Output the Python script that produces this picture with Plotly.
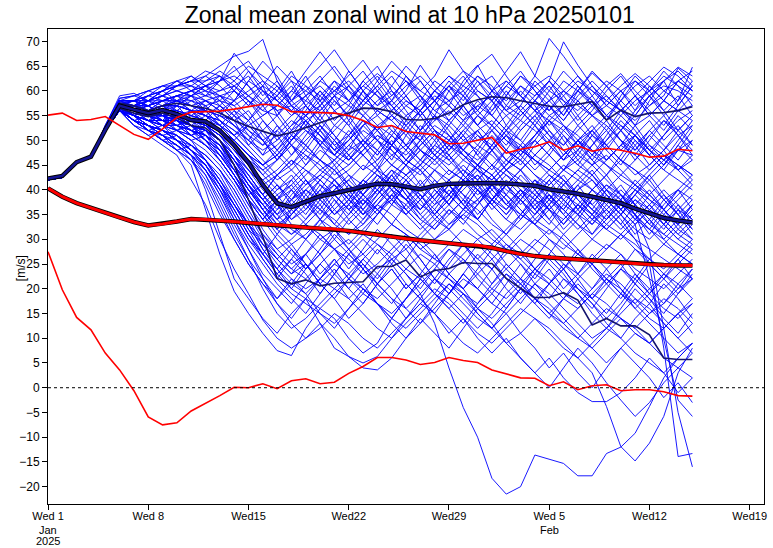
import pandas as pd
import plotly.graph_objects as go

# daily steps, 1 Jan .. 15 Feb 2025
days = pd.date_range("2025-01-01", periods=46, freq="D")

clim_mean = [40.3, 38.6, 37.3, 36.3, 35.4, 34.4, 33.5, 32.8, 33.1, 33.6, 34.1, 34.0, 33.8, 33.6, 33.3, 33.1,
             32.9, 32.7, 32.4, 32.2, 32.1, 31.7, 31.3, 30.9, 30.4, 30.1, 29.8, 29.5, 29.2, 28.9, 28.8, 28.3,
             27.6, 27.0, 26.6, 26.3, 26.1, 25.9, 25.7, 25.4, 25.2, 25.1, 24.9, 24.8, 24.7, 24.7]
clim_max = [55.1, 55.5, 54.0, 54.2, 54.8, 53.0, 51.2, 50.2, 52.3, 54.6, 55.7, 55.8, 55.9, 56.3, 56.8, 57.3,
            57.1, 55.8, 55.7, 55.6, 55.5, 55.0, 54.0, 52.6, 53.0, 51.8, 51.5, 51.1, 49.3, 49.4, 50.0, 50.6,
            47.4, 48.2, 48.7, 49.7, 48.0, 48.9, 47.8, 48.4, 48.0, 47.4, 46.6, 46.8, 48.2, 47.9]
clim_min = [27.5, 19.8, 14.2, 11.7, 7.0, 3.6, -0.6, -5.9, -7.5, -7.1, -4.7, -3.2, -1.6, 0.1, 0.0, 0.8,
            -0.2, 1.4, 1.8, 0.8, 1.1, 2.9, 4.3, 6.1, 6.1, 5.6, 4.7, 5.1, 6.1, 5.5, 5.1, 3.6,
            2.8, 2.0, 1.9, 0.4, 1.2, -0.4, 0.4, 0.6, -0.6, -0.4, -0.4, -0.8, -1.6, -1.7]

ens_mean = [42.3, 42.8, 45.6, 46.7, 52.1, 57.0, 56.2, 55.5, 56.1, 55.3, 54.1, 53.8, 52.0, 49.0, 45.5, 41.0,
            37.3, 36.5, 37.6, 38.7, 39.3, 40.0, 40.7, 41.2, 41.1, 40.7, 40.1, 40.8, 41.2, 41.3, 41.4, 41.4,
            41.3, 41.1, 40.8, 40.1, 39.7, 39.2, 38.6, 37.9, 37.3, 36.2, 35.2, 34.3, 33.8, 33.4]
ctrl_high = [42.3, 42.8, 45.6, 46.7, 52.3, 57.5, 57.0, 56.0, 57.0, 57.5, 57.0, 56.5, 55.5, 54.0, 52.8, 51.8,
             50.9, 51.6, 52.6, 53.5, 54.6, 55.6, 56.5, 56.4, 55.8, 54.2, 54.1, 54.4, 55.5, 57.2, 58.2, 58.8,
             58.6, 58.0, 57.4, 56.9, 56.8, 57.3, 57.8, 54.1, 56.1, 54.8, 55.5, 55.6, 56.0, 56.8]
ctrl_low = [42.3, 42.8, 45.6, 46.7, 52.0, 56.5, 55.5, 54.8, 55.5, 54.5, 53.0, 52.5, 50.0, 45.0, 38.0, 30.5,
            22.1, 21.0, 21.8, 20.6, 21.1, 21.2, 21.4, 24.5, 24.5, 25.8, 22.4, 23.7, 24.1, 25.3, 25.1, 25.1,
            22.1, 20.1, 18.2, 18.3, 19.2, 17.7, 12.7, 14.0, 12.5, 12.5, 10.7, 6.0, 5.7, 5.7]

members_upper = [
    [42, 42.5, 45.5, 46.5, 52.5, 58, 58, 57, 59, 60, 61, 63, 65, 67, 68, 70.4, 62, 57, 55, 58, 62, 60, 56, 53, 55, 58, 56, 52, 50, 53, 57, 55, 52, 48, 51, 55, 53, 50, 47, 50, 53, 51, 48, 51, 54, 56],
    [42, 42.5, 45.5, 46.5, 52, 57.5, 57, 58, 59, 61, 62, 62, 63, 61, 58, 55, 57, 60, 64, 67.9, 64, 60, 58, 61, 64, 62, 59, 56, 58, 61, 59, 55, 52, 55, 58, 56, 59, 62, 60, 57, 55, 58, 60, 62, 64.8, 63],
    [42, 42.5, 45.5, 46.5, 52, 57, 56, 57, 58, 59, 60, 61, 60, 62, 65, 63, 61, 58, 62, 65, 68.3, 64, 60, 57, 59, 62, 60, 58, 61, 64, 62, 59, 56, 58, 61, 63, 60, 58, 55, 57, 60, 62, 59, 61, 60, 58],
    [42, 42.5, 45.5, 46.5, 52.5, 58, 58, 59, 60, 61, 61, 60, 62, 67.6, 64, 60, 58, 56, 59, 61, 58, 55, 58, 62, 66, 63, 60, 63, 68.3, 64, 60, 58, 61, 59, 56, 54, 57, 60, 58, 55, 58, 61, 63, 60, 62, 64],
    [42, 42.5, 45.5, 46.5, 52, 57, 57, 56, 57, 58, 59, 60, 59, 58, 60, 62, 60, 57, 55, 57, 60, 63, 66.2, 62, 58, 55, 57, 60, 63, 61, 65, 67.4, 63, 59, 56, 58, 62, 60, 57, 59, 56, 53, 55, 58, 56, 54],
    [42, 42.5, 45.5, 46.5, 52, 57, 56, 56, 58, 58, 57, 58, 59, 60, 58, 56, 55, 58, 61, 59, 56, 58, 61, 59, 57, 60, 65.2, 61, 58, 60, 63, 60, 64, 67.9, 63, 60, 58, 56, 59, 62, 60, 57, 60, 63, 61, 59],
    [42, 42.5, 45.5, 46.5, 52, 57.5, 57, 57, 58, 59, 60, 59, 58, 57, 59, 61, 59, 56, 54, 56, 59, 57, 55, 58, 60, 57, 55, 58, 61, 59, 56, 60, 62, 59, 63, 70.6, 67, 63, 60, 58, 61, 63.5, 61, 58, 56, 57],
    [42, 42.5, 45.5, 46.5, 52, 57, 57, 56, 57, 58, 58, 59, 60, 61, 59, 57, 59, 62, 60, 58, 60, 62, 59, 56, 58, 61, 63, 60, 58, 55, 57, 59, 56, 54, 58, 62, 69.9, 65.2, 61, 58, 56, 59, 62, 64.8, 63, 60],
    [42, 42.5, 45.5, 46.5, 52, 57, 56, 57, 58, 59, 60, 61, 62, 63, 61, 58, 56, 57, 59, 62, 60, 58, 61, 63.5, 61, 58, 56, 59, 57, 54, 56, 60, 58, 61, 58, 55, 57, 60, 63.6, 61, 63.5, 60, 57, 59, 64.6, 62],
    [42, 42.5, 45.5, 46.5, 52, 57, 57, 58, 58, 59, 59, 58, 57, 55, 53, 55, 57, 60, 58, 56, 59, 61, 58, 56, 54, 57, 59, 56, 54, 57, 60, 58, 55, 52, 55, 58, 60, 57, 55, 58, 56, 54, 57, 60, 58, 64.8],
    [42, 42.5, 45.5, 46.5, 53, 58.5, 59, 60, 61, 61, 62, 60, 57, 60, 64, 61, 55, 59, 63, 58, 54, 57, 62, 65, 60, 56, 52, 57, 61, 58, 62, 58, 53, 57, 62, 59, 55, 60, 64, 61, 57, 53, 58, 62, 57, 61],
    [42, 42.5, 45.5, 46.5, 52.5, 58, 58, 59, 60, 62, 61, 59, 62, 65, 61, 57, 60, 64, 59, 55, 59, 64, 60, 55, 58, 63, 59, 54, 57, 62, 65.2, 60, 56, 60, 57, 53, 56, 61, 58, 54, 59, 63, 60, 56, 59, 55],
    [42, 42.5, 45.5, 46.5, 53, 59, 59.5, 58, 59, 60, 59, 61, 63, 60, 57, 61, 65, 62, 57, 54, 58, 55, 60, 63, 59, 62, 58, 55, 60, 56, 53, 57, 61, 64, 60, 56, 60, 63, 59, 55, 52, 56, 61, 58, 62, 60],
    [42, 42.5, 45.5, 46.5, 52, 57.5, 58, 59, 61, 62, 60, 58, 56, 58, 62, 66, 63, 58, 60, 63, 59, 54, 58, 61, 57, 53, 56, 60, 63, 60, 56, 53, 57, 61, 59, 62, 58, 54, 57, 61, 58, 55, 59, 56, 52, 55],
    [42, 42.5, 45.5, 46.5, 52.5, 58, 57, 58, 60, 61, 62, 63, 61, 58, 62, 60, 56, 52, 56, 60, 57, 61, 64, 60, 56, 59, 62, 58, 62, 59, 55, 58, 62, 59, 56, 60, 64, 61, 57, 54, 58, 62, 60, 64, 61, 57],
    [42, 42.5, 45.5, 46.5, 52, 57, 58, 60, 59, 58, 60, 62, 64, 62, 59, 56, 59, 63, 61, 57, 53, 56, 60, 57, 61, 65, 62, 58, 55, 59, 63, 61, 57, 55, 58, 61, 57, 53, 56, 60, 63, 59, 55, 58, 62, 60],
    [42, 42.5, 45.5, 46.5, 53, 58.5, 59, 58, 60, 61, 63, 61, 59, 57, 54, 58, 61, 57, 53, 57, 61, 58, 62, 59, 55, 52, 56, 60, 57, 54, 58, 55, 59, 63, 60, 57, 54, 58, 55, 52, 56, 59, 56, 53, 57, 61],
    [42, 42.5, 45.5, 46.5, 52.5, 58, 59, 60, 61, 60, 59, 61, 62, 64, 66, 62, 58, 61, 57, 60, 56, 53, 57, 60, 63, 59, 55, 58, 54, 57, 61, 63, 59, 56, 53, 57, 54, 58, 61, 57, 60, 56, 59, 55, 58, 62],
    [42, 42.5, 45.5, 46.5, 52, 57.5, 57, 59, 60, 62, 63, 61, 58, 61, 63, 59, 62, 58, 55, 59, 62, 58, 55, 52, 56, 59, 55, 58, 61, 57, 53, 56, 60, 56, 59, 62, 59, 55, 58, 55, 52, 55, 59, 62, 64, 61],
    [42, 42.5, 45.5, 46.5, 52.5, 58, 58, 58, 59, 61, 62, 64, 63, 60, 57, 60, 58, 55, 58, 62, 65, 61, 57, 60, 57, 54, 58, 62, 60, 63, 59, 56, 59, 63, 61, 58, 55, 59, 62, 59, 56, 59, 55, 52, 56, 59],
]
members_upper_mid = [
    [42, 42.5, 45.5, 46.5, 52, 57, 56, 56, 57, 57, 56, 55, 54, 52, 50, 48, 50, 53, 55, 52, 49, 51, 54, 52, 49, 47, 50, 53, 51, 48, 46, 49, 52, 50, 47, 50, 53, 51, 48, 46, 49, 51, 48, 46, 48, 50],
    [42, 42.5, 45.5, 46.5, 52, 57, 56, 55, 56, 56, 55, 54, 53, 50, 47, 45, 47, 50, 53, 51, 48, 46, 49, 52, 55, 53, 50, 47, 45, 48, 51, 49, 46, 44, 47, 50, 48, 45, 43, 46, 49, 47, 44, 47, 45, 43],
    [42, 42.5, 45.5, 46.5, 52, 57, 57, 56, 57, 57, 56, 56, 55, 54, 52, 50, 52, 55, 57, 54, 51, 48, 50, 53, 51, 48, 52, 55, 53, 50, 52, 54, 51, 48, 46, 44, 47, 50, 52, 49, 46, 44, 42, 45, 48, 47],
    [42, 42.5, 45.5, 46.5, 52, 57, 56, 56, 56, 56, 55, 54, 52, 49, 46, 44, 46, 49, 47, 44, 46, 49, 52, 50, 47, 45, 48, 51, 49, 46, 44, 42, 45, 48, 46, 43, 41, 44, 47, 45, 42, 40, 43, 46, 44, 41],
    [42, 42.5, 45.5, 46.5, 52, 57, 56, 55, 56, 55, 54, 53, 51, 48, 45, 42, 44, 47, 50, 53, 50, 47, 44, 46, 49, 52, 50, 47, 44, 42, 45, 48, 51, 54, 52, 49, 46, 48, 51, 49, 46, 43, 45, 48, 51, 53],
    [42, 42.5, 45.5, 46.5, 52, 57, 57, 56, 57, 58, 57, 56, 55, 53, 51, 49, 51, 54, 52, 49, 47, 50, 53, 56, 54, 51, 48, 46, 49, 52, 55, 53, 50, 48, 51, 54, 52, 49, 52, 55, 53, 50, 47, 44, 42, 40],
    [42, 42.5, 45.5, 46.5, 52, 57, 56, 56, 57, 57, 56, 55, 53, 51, 48, 45, 42, 44, 47, 45, 42, 44, 47, 50, 48, 45, 43, 46, 49, 47, 44, 42, 45, 48, 50, 47, 44, 42, 45, 47, 44, 41, 39, 42, 45, 43],
    [42, 42.5, 45.5, 46.5, 52, 57, 56, 55, 55, 55, 54, 53, 52, 50, 47, 43, 40, 42, 45, 48, 46, 43, 41, 44, 47, 49, 46, 44, 47, 50, 48, 45, 43, 40, 38, 41, 44, 46, 43, 40, 38, 41, 44, 47, 45, 42],
    [42, 42.5, 45.5, 46.5, 52, 57, 57, 57, 58, 58, 57, 56, 55, 53, 50, 47, 49, 52, 54, 51, 48, 50, 53, 55, 52, 49, 51, 54, 56, 53, 50, 52, 55, 57, 54, 51, 49, 52, 55, 53, 50, 48, 51, 54, 52, 49],
    [42, 42.5, 45.5, 46.5, 52, 57, 56, 56, 57, 57, 56, 55, 54, 52, 49, 46, 43, 45, 48, 46, 43, 45, 48, 51, 49, 46, 49, 52, 50, 47, 45, 48, 51, 49, 46, 44, 47, 50, 48, 45, 43, 46, 49, 47, 44, 46],
    [42, 42.5, 45.5, 46.5, 52, 57, 57, 56, 56, 57, 56, 55, 53, 51, 48, 45, 47, 44, 41, 43, 46, 49, 47, 44, 42, 45, 48, 46, 43, 46, 49, 47, 44, 41, 39, 42, 45, 43, 40, 43, 46, 44, 41, 38, 40, 43],
    [42, 42.5, 45.5, 46.5, 52.5, 58, 58, 57, 55, 56, 58, 57, 54, 51, 53, 50, 46, 50, 54, 49, 45, 48, 53, 50, 46, 51, 55, 51, 47, 43, 48, 52, 49, 53, 56, 52, 48, 45, 49, 53, 50, 46, 50, 54, 51, 47],
    [42, 42.5, 45.5, 46.5, 52, 57.5, 57, 59, 58, 56, 55, 57, 58, 55, 51, 47, 52, 49, 45, 49, 53, 51, 47, 44, 49, 53, 56, 52, 48, 51, 47, 44, 48, 52, 55, 51, 47, 50, 46, 43, 47, 51, 54, 50, 53, 49],
    [42, 42.5, 45.5, 46.5, 52, 57, 58, 57, 55, 57, 59, 56, 53, 56, 54, 50, 47, 51, 55, 52, 48, 52, 49, 45, 49, 54, 51, 47, 50, 54, 51, 48, 52, 56, 53, 49, 46, 50, 53, 49, 46, 50, 47, 51, 55, 52],
    [42, 42.5, 45.5, 46.5, 52.5, 57.5, 56, 58, 60, 58, 56, 54, 57, 54, 49, 52, 55, 51, 48, 52, 56, 53, 49, 46, 50, 46, 50, 55, 52, 48, 45, 49, 53, 50, 54, 57, 53, 49, 46, 50, 54, 51, 48, 45, 49, 46],
    [42, 42.5, 45.5, 46.5, 52, 57, 57, 55, 56, 58, 56, 53, 55, 58, 55, 51, 48, 52, 49, 46, 50, 54, 50, 47, 51, 48, 45, 49, 53, 57, 53, 50, 46, 49, 45, 48, 52, 55, 51, 48, 52, 49, 45, 48, 52, 55],
    [42, 42.5, 45.5, 46.5, 52, 57, 58, 58, 56, 54, 56, 58, 56, 53, 50, 54, 51, 47, 51, 55, 51, 47, 44, 48, 52, 49, 53, 50, 46, 49, 52, 48, 45, 49, 53, 50, 46, 50, 47, 51, 55, 52, 48, 45, 49, 53],
    [42, 42.5, 45.5, 46.5, 52.5, 58, 57, 56, 58, 59, 57, 55, 52, 55, 58, 54, 50, 53, 57, 53, 49, 46, 50, 47, 51, 55, 52, 48, 51, 47, 44, 48, 51, 47, 50, 54, 51, 47, 51, 54, 50, 47, 51, 48, 44, 47],
    [42, 42.5, 45.5, 46.5, 52, 57, 56, 58, 59, 57, 54, 56, 59, 56, 52, 49, 53, 50, 54, 51, 47, 50, 54, 50, 53, 49, 46, 50, 54, 51, 47, 51, 48, 45, 49, 52, 49, 53, 50, 46, 49, 53, 49, 46, 50, 54],
    [42, 42.5, 45.5, 46.5, 52, 57.5, 58, 56, 54, 57, 59, 57, 54, 51, 54, 57, 53, 49, 46, 50, 47, 51, 55, 52, 48, 45, 49, 52, 48, 51, 55, 52, 48, 46, 50, 47, 44, 48, 52, 48, 45, 49, 52, 49, 46, 50],
    [42, 42.5, 45.5, 46.5, 52, 57, 57, 58, 57, 55, 53, 55, 57, 54, 56, 52, 48, 45, 49, 53, 50, 46, 49, 53, 49, 52, 48, 45, 48, 52, 49, 53, 50, 47, 44, 47, 51, 48, 45, 49, 52, 48, 52, 55, 51, 48],
    [42, 42.5, 45.5, 46.5, 52.5, 57.5, 56, 55, 57, 59, 58, 56, 53, 50, 53, 50, 46, 50, 53, 49, 52, 55, 51, 48, 45, 48, 52, 55, 51, 48, 52, 48, 44, 47, 51, 54, 50, 46, 49, 52, 48, 51, 47, 44, 48, 52],
]
members_middle = [
    [42, 42.5, 45.5, 46.5, 52, 57, 56, 55, 55, 54, 53, 52, 50, 47, 43, 39, 36, 38, 41, 44, 42, 39, 37, 40, 43, 46, 44, 41, 39, 42, 45, 43, 40, 38, 41, 44, 42, 39, 36, 34, 37, 40, 38, 35, 33, 36],
    [42, 42.5, 45.5, 46.5, 52, 56.5, 56, 55, 55, 54, 53, 52, 50, 46, 42, 38, 35, 37, 40, 38, 35, 37, 40, 43, 41, 38, 36, 39, 42, 44, 41, 38, 36, 39, 42, 40, 37, 35, 38, 41, 39, 36, 33, 31, 34, 37],
    [42, 42.5, 45.5, 46.5, 52, 57, 56, 56, 56, 55, 54, 53, 51, 48, 44, 40, 37, 34, 36, 39, 41, 38, 35, 37, 40, 43, 45, 42, 39, 36, 38, 41, 44, 42, 39, 36, 34, 37, 40, 38, 35, 32, 30, 33, 36, 34],
    [42, 42.5, 45.5, 46.5, 52, 57, 55, 54, 54, 53, 52, 51, 49, 45, 41, 37, 33, 31, 34, 37, 40, 42, 39, 36, 38, 41, 39, 36, 33, 35, 38, 41, 39, 36, 33, 31, 34, 37, 35, 32, 30, 33, 36, 34, 31, 29],
    [42, 42.5, 45.5, 46.5, 52, 57, 56, 55, 55, 55, 54, 53, 51, 48, 45, 42, 39, 41, 44, 42, 39, 36, 38, 41, 44, 42, 45, 48, 46, 43, 40, 38, 41, 44, 47, 45, 42, 39, 37, 40, 43, 41, 38, 36, 39, 42],
    [42, 42.5, 45.5, 46.5, 52, 57, 56, 55, 54, 54, 53, 52, 50, 47, 43, 39, 35, 32, 30, 33, 36, 39, 42, 40, 37, 35, 38, 41, 44, 42, 39, 41, 44, 46, 43, 40, 38, 35, 33, 36, 39, 37, 34, 31, 29, 27],
    [42, 42.5, 45.5, 46.5, 52, 56.5, 55, 54, 54, 53, 52, 51, 49, 46, 42, 38, 34, 31, 33, 36, 34, 31, 33, 36, 39, 37, 34, 32, 35, 38, 36, 33, 31, 34, 37, 39, 36, 33, 30, 28, 31, 34, 32, 29, 27, 25],
    [42, 42.5, 45.5, 46.5, 52, 57, 56, 55, 55, 54, 53, 52, 50, 46, 41, 36, 32, 29, 31, 34, 32, 29, 32, 35, 38, 36, 33, 30, 32, 35, 33, 30, 28, 31, 34, 32, 29, 27, 30, 33, 31, 28, 26, 29, 32, 30],
    [42, 42.5, 45.5, 46.5, 52, 56.5, 55, 54, 53, 53, 52, 50, 48, 44, 40, 36, 33, 35, 38, 36, 33, 31, 34, 37, 35, 32, 30, 33, 36, 34, 31, 29, 32, 35, 33, 30, 28, 31, 34, 36, 33, 30, 28, 26, 24, 22],
    [42, 42.5, 45.5, 46.5, 52, 57, 56, 55, 55, 54, 53, 52, 50, 47, 44, 41, 38, 40, 43, 46, 44, 41, 39, 42, 45, 43, 40, 37, 39, 42, 40, 37, 34, 32, 35, 38, 36, 33, 31, 34, 37, 35, 32, 30, 27, 25],
    [42, 42.5, 45.5, 46.5, 52, 57, 56, 55, 54, 54, 52, 51, 49, 45, 41, 37, 34, 36, 33, 30, 32, 35, 38, 36, 33, 31, 28, 30, 33, 36, 34, 31, 28, 26, 29, 32, 30, 27, 25, 28, 31, 29, 26, 24, 27, 30],
    [42, 42.5, 45.5, 46.5, 52, 57, 56, 55, 55, 55, 54, 53, 52, 50, 47, 44, 41, 38, 40, 43, 41, 38, 36, 39, 42, 40, 37, 35, 38, 41, 43, 40, 37, 35, 33, 36, 39, 37, 34, 32, 35, 38, 36, 33, 30, 28],
    [42, 42.5, 45.5, 46.5, 52, 57, 57, 55, 53, 55, 56, 53, 50, 46, 43, 39, 43, 40, 36, 40, 44, 40, 36, 33, 37, 41, 38, 34, 37, 41, 45, 41, 37, 40, 36, 33, 37, 41, 44, 40, 36, 39, 43, 39, 35, 38],
    [42, 42.5, 45.5, 46.5, 52, 57.5, 56, 57, 55, 53, 54, 52, 49, 45, 40, 36, 32, 36, 40, 37, 33, 37, 41, 44, 40, 36, 39, 35, 32, 36, 40, 37, 41, 44, 40, 37, 33, 36, 40, 43, 39, 35, 32, 36, 33, 30],
    [42, 42.5, 45.5, 46.5, 52, 57, 55, 56, 57, 54, 52, 53, 51, 47, 42, 38, 41, 37, 34, 38, 42, 39, 35, 39, 43, 39, 35, 32, 36, 33, 37, 41, 38, 34, 38, 42, 38, 35, 31, 35, 38, 42, 39, 36, 32, 35],
    [42, 42.5, 45.5, 46.5, 52, 56.5, 56, 54, 53, 55, 53, 50, 48, 44, 39, 35, 31, 35, 38, 34, 30, 34, 37, 41, 38, 42, 39, 35, 38, 42, 38, 34, 31, 35, 39, 36, 32, 35, 39, 36, 33, 37, 34, 30, 33, 37],
    [42, 42.5, 45.5, 46.5, 52, 57, 57, 56, 54, 53, 55, 52, 48, 43, 39, 41, 38, 34, 37, 41, 38, 34, 31, 35, 39, 42, 38, 41, 37, 34, 37, 41, 38, 35, 38, 34, 31, 34, 38, 41, 38, 34, 37, 33, 30, 33],
    [42, 42.5, 45.5, 46.5, 52.5, 57.5, 56, 55, 56, 54, 51, 49, 47, 43, 38, 34, 37, 33, 30, 34, 38, 35, 39, 42, 38, 35, 32, 35, 39, 36, 40, 43, 39, 36, 33, 37, 40, 36, 39, 35, 32, 35, 39, 36, 40, 38],
    [42, 42.5, 45.5, 46.5, 52, 57, 56, 57, 55, 52, 50, 51, 49, 44, 40, 37, 40, 43, 39, 36, 40, 43, 39, 36, 33, 37, 40, 44, 41, 37, 34, 38, 35, 39, 42, 38, 35, 39, 36, 33, 36, 40, 37, 34, 31, 34],
    [42, 42.5, 45.5, 46.5, 52, 56.5, 55, 56, 54, 52, 53, 50, 47, 43, 38, 34, 38, 41, 37, 40, 36, 33, 36, 40, 37, 41, 44, 40, 37, 40, 43, 39, 36, 40, 37, 34, 38, 41, 37, 34, 38, 35, 31, 35, 38, 41],
    [42, 42.5, 45.5, 46.5, 52, 57, 56, 54, 55, 56, 53, 51, 48, 45, 41, 38, 35, 39, 42, 38, 35, 38, 42, 45, 41, 38, 35, 38, 41, 38, 42, 45, 41, 38, 35, 39, 36, 40, 43, 39, 36, 33, 36, 39, 36, 32],
    [42, 42.5, 45.5, 46.5, 52, 57, 57, 55, 54, 52, 54, 51, 47, 44, 40, 36, 39, 35, 38, 42, 45, 41, 38, 35, 39, 35, 38, 42, 39, 43, 40, 36, 39, 43, 40, 36, 33, 37, 34, 38, 41, 37, 40, 36, 33, 37],
    [42, 42.5, 45.5, 46.5, 52.5, 57.5, 56, 57, 55, 53, 51, 53, 50, 46, 42, 39, 43, 46, 42, 38, 41, 37, 34, 38, 41, 45, 41, 38, 42, 45, 42, 38, 35, 38, 42, 39, 36, 40, 42, 38, 35, 38, 35, 32, 36, 39],
    [42, 42.5, 45.5, 46.5, 52, 57, 55, 54, 56, 54, 52, 49, 46, 42, 37, 33, 36, 40, 37, 34, 37, 41, 37, 40, 44, 40, 36, 39, 42, 39, 35, 38, 41, 37, 40, 43, 40, 36, 33, 37, 40, 37, 33, 37, 40, 36],
    [42, 42.5, 45.5, 46.5, 52, 56.5, 56, 55, 53, 54, 52, 50, 47, 43, 39, 35, 32, 35, 39, 42, 39, 36, 33, 37, 41, 38, 42, 38, 35, 38, 34, 38, 41, 38, 34, 37, 41, 38, 35, 38, 35, 31, 34, 38, 35, 32],
    [42, 42.5, 45.5, 46.5, 52, 57, 57, 56, 55, 53, 51, 52, 50, 45, 41, 38, 41, 38, 42, 39, 35, 38, 42, 39, 43, 39, 36, 40, 37, 41, 44, 40, 37, 40, 36, 40, 43, 39, 36, 40, 37, 34, 37, 40, 37, 34],
    [42, 42.5, 45.5, 46.5, 52, 57, 56, 55, 54, 55, 53, 50, 46, 42, 38, 35, 38, 42, 38, 35, 39, 36, 39, 43, 40, 36, 33, 36, 40, 37, 41, 37, 34, 38, 35, 38, 42, 38, 35, 32, 35, 39, 36, 33, 37, 33],
    [42, 42.5, 45.5, 46.5, 52, 57, 55, 56, 57, 55, 53, 51, 48, 44, 40, 37, 34, 38, 35, 39, 42, 38, 35, 38, 41, 38, 34, 37, 41, 37, 34, 38, 42, 39, 36, 39, 35, 32, 35, 39, 36, 39, 42, 38, 35, 31],
]
members_low = [
    [42, 42.5, 45.5, 46.5, 52, 56.5, 55, 54, 53, 52, 51, 49, 46, 42, 37, 32, 28, 25, 27, 30, 28, 25, 27, 30, 33, 31, 28, 26, 29, 32, 30, 27, 24, 27, 30, 28, 25, 23, 26, 29, 27, 24, 22, 20, 23, 26],
    [42, 42.5, 45.5, 46.5, 52, 56.5, 55, 54, 53, 52, 50, 48, 45, 41, 36, 31, 27, 24, 22, 25, 28, 26, 23, 25, 28, 31, 29, 26, 24, 27, 30, 32, 29, 26, 23, 21, 24, 27, 25, 22, 19, 17, 20, 23, 21, 18],
    [42, 42.5, 45.5, 46.5, 52, 56.5, 55, 53, 52, 51, 49, 47, 44, 40, 35, 30, 26, 23, 25, 22, 20, 23, 26, 29, 27, 24, 22, 25, 28, 26, 23, 20, 18, 21, 24, 22, 19, 17, 20, 23, 21, 18, 15, 17, 20, 22],
    [42, 42.5, 45.5, 46.5, 52, 56, 54, 53, 52, 51, 49, 47, 44, 39, 34, 29, 25, 22, 20, 22, 25, 28, 31, 29, 26, 28, 31, 34, 32, 29, 26, 24, 27, 30, 28, 25, 22, 20, 18, 21, 24, 22, 19, 16, 14, 17],
    [42, 42.5, 45.5, 46.5, 52, 56, 54, 53, 52, 50, 48, 46, 43, 38, 33, 28, 24, 21, 19, 22, 25, 23, 20, 18, 21, 24, 27, 25, 22, 20, 23, 26, 29, 27, 24, 21, 18, 16, 19, 22, 20, 17, 14, 12, 15, 18],
    [42, 42.5, 45.5, 46.5, 52, 56, 54, 53, 51, 50, 48, 46, 42, 37, 32, 27, 23, 20, 18, 16, 19, 22, 20, 17, 15, 18, 21, 24, 22, 19, 17, 20, 23, 21, 18, 15, 13, 16, 19, 17, 14, 12, 15, 18, 16, 13],
    [42, 42.5, 45.5, 46.5, 52, 56, 54, 52, 51, 49, 47, 45, 41, 36, 31, 26, 22, 19, 17, 15, 13, 16, 19, 17, 14, 12, 15, 18, 21, 19, 16, 14, 17, 20, 18, 15, 12, 10, 13, 16, 14, 11, 9, 12, 15, 11],
    [42, 42.5, 45.5, 46.5, 52, 56, 54, 52, 50, 48, 45, 36, 27, 19.5, 15, 11, 7.5, 6.5, 12, 16, 14, 10, 7, 9, 14, 18, 22, 19, 16, 13, 17, 21, 24, 21, 18, 15, 18, 22, 25, 22, 19, 16, 13, 10, 7, 9],
    [42, 42.5, 45.5, 46.5, 52, 56, 54, 52, 50, 49, 47, 40, 31, 22, 18, 14, 11, 15, 18, 13, 8, 6.3, 5, 6.3, 10, 14, 17, 20, 18, 15, 12, 15, 19, 22, 20, 17, 14, 11, 8, 11, 14, 12, 9, 12, 15, 17],
    [42, 42.5, 45.5, 46.5, 52, 56, 53, 51, 49, 47, 42, 37, 30, 24, 19, 13.7, 10, 8, 10, 13, 10, 6.3, 4, 3.6, 6, 10, 13, 16, 19, 22, 20, 17, 15, 18, 21, 19, 16, 13, 10, 12, 15, 18, 16, 13, 10, 7],
    [42, 42.5, 45.5, 46.5, 52, 56, 54, 52, 50, 48, 46, 43, 38, 32, 26, 20, 15, 12, 14, 17, 20, 18, 15, 12, 10, 13, 16, 19, 17, 14, 11, 9, 12, 15, 18, 16, 13, 10, 8, 5, 8, 11, 9, 6, 4, 2],
    [42, 42.5, 45.5, 46.5, 52, 56, 54, 52, 51, 49, 47, 44, 40, 34, 28, 22, 17, 13, 10, 12, 15, 13, 10, 8, 11, 14, 17, 15, 12, 9, 7, 10, 13, 16, 14, 11, 8, 6, 9, 12, 10, 7, 5, 3, 6, 9],
    [42, 42.5, 45.5, 46.5, 52, 56, 55, 53, 51, 52, 50, 46, 41, 35, 30, 26, 22, 26, 30, 27, 23, 20, 24, 28, 25, 21, 18, 22, 26, 29, 25, 21, 25, 22, 18, 21, 25, 22, 18, 15, 19, 23, 20, 17, 21, 24],
    [42, 42.5, 45.5, 46.5, 52, 56.5, 54, 55, 53, 50, 48, 45, 41, 37, 33, 28, 24, 20, 24, 28, 32, 28, 24, 21, 25, 29, 26, 22, 19, 23, 27, 24, 20, 17, 21, 24, 20, 23, 27, 24, 20, 16, 19, 23, 26, 22],
    [42, 42.5, 45.5, 46.5, 52, 56, 53, 51, 52, 50, 47, 44, 39, 34, 29, 25, 21, 18, 15, 19, 23, 27, 24, 20, 17, 21, 18, 15, 19, 23, 20, 24, 28, 25, 21, 18, 22, 19, 15, 12, 16, 20, 17, 21, 18, 14],
    [42, 42.5, 45.5, 46.5, 52, 56, 55, 53, 50, 48, 49, 46, 42, 38, 33, 29, 26, 29, 25, 21, 18, 22, 26, 23, 27, 30, 26, 22, 19, 23, 20, 17, 21, 25, 22, 26, 23, 19, 16, 20, 24, 21, 25, 22, 19, 23],
    [42, 42.5, 45.5, 46.5, 52, 56.5, 54, 52, 53, 51, 48, 45, 40, 35, 30, 27, 31, 28, 24, 27, 31, 28, 25, 22, 26, 23, 20, 24, 28, 25, 29, 26, 22, 19, 23, 27, 24, 28, 25, 21, 18, 22, 26, 23, 20, 24],
    [42, 42.5, 45.5, 46.5, 52, 56, 54, 53, 51, 49, 47, 43, 37, 31, 26, 22, 18, 21, 25, 21, 18, 14, 17, 21, 24, 20, 23, 27, 23, 20, 16, 19, 23, 20, 24, 27, 24, 20, 17, 14, 17, 21, 18, 15, 19, 22],
    [42, 42.5, 45.5, 46.5, 52, 56, 55, 52, 50, 51, 48, 44, 39, 33, 28, 23, 20, 17, 21, 25, 22, 18, 21, 17, 14, 18, 22, 19, 23, 26, 22, 19, 16, 20, 17, 14, 18, 21, 18, 22, 25, 21, 18, 14, 11, 15],
    [42, 42.5, 45.5, 46.5, 52, 56, 53, 52, 51, 48, 46, 41, 35, 30, 25, 21, 17, 14, 18, 22, 26, 22, 19, 23, 20, 16, 13, 17, 21, 18, 15, 12, 16, 20, 17, 21, 24, 20, 17, 13, 10, 14, 17, 13, 10, 13],
    [42, 42.5, 45.5, 46.5, 52, 56.5, 54, 53, 52, 50, 49, 46, 42, 37, 32, 29, 26, 23, 27, 31, 28, 24, 28, 32, 29, 26, 30, 27, 23, 20, 24, 28, 31, 28, 24, 27, 31, 28, 24, 21, 24, 28, 25, 22, 26, 29],
    [42, 42.5, 45.5, 46.5, 52, 56, 55, 54, 52, 50, 47, 44, 40, 36, 31, 27, 23, 26, 23, 19, 23, 27, 30, 27, 31, 28, 24, 21, 25, 29, 26, 29, 25, 22, 26, 30, 27, 23, 20, 24, 27, 23, 19, 22, 25, 28],
]
members_divers = [
    [42, 42.5, 45.5, 46.5, 52, 56.5, 55, 53, 52, 51, 49, 47, 44, 40, 35, 31, 28, 30, 33, 31, 28, 30, 27, 24, 26, 23, 19, 13, 4, -4, -10, -18.3, -21.5, -20, -13.6, -14.5, -15.3, -17.8, -17.8, -13.3, -12, -9.2, -3.8, 2, 6, 9],
    [42, 42.5, 45.5, 46.5, 52, 56.5, 55, 54, 53, 52, 51, 49, 46, 42, 38, 34, 30, 27, 24, 27, 30, 27, 24, 21, 18, 16, 19, 22, 20, 17, 14, 12, 9, 11, 14, 12, 9, 6, 3, -3.8, -11.9, -14.8, -11.2, -5.8, 3, 8],
    [42, 42.5, 45.5, 46.5, 52, 57, 56, 55, 55, 54, 53, 52, 50, 47, 44, 41, 43, 46, 44, 41, 39, 42, 45, 43, 40, 38, 41, 44, 42, 39, 37, 40, 43, 41, 38, 36, 39, 42, 40, 37, 34, 30, 25, 8, -13.9, -13.3],
    [42, 42.5, 45.5, 46.5, 52, 57, 56, 56, 57, 56, 55, 54, 52, 50, 47, 45, 48, 51, 49, 46, 44, 47, 50, 48, 45, 43, 46, 49, 47, 44, 42, 45, 48, 46, 43, 41, 44, 47, 45, 42, 39, 35, 28, 12, -5, -16],
    [42, 42.5, 45.5, 46.5, 52, 57, 56, 55, 56, 55, 54, 53, 51, 49, 46, 43, 46, 49, 52, 50, 47, 45, 48, 51, 49, 46, 44, 47, 50, 48, 45, 43, 46, 44, 41, 38, 41, 44, 42, 39, 36, 33, 22, 10, -2.5, -5.8],
    [42, 42.5, 45.5, 46.5, 52, 56, 54, 53, 51, 49, 46, 42, 36, 30, 25, 21, 18, 22, 19, 15, 12, 16, 20, 17, 13, 10, 14, 11, 8, 12, 16, 13, 9, 6, 3, 6, 2, -1, -2.8, -2.8, -1, 2, 6, 3, -1, 2],
    [42, 42.5, 45.5, 46.5, 52, 56, 55, 53, 52, 50, 48, 45, 41, 36, 31, 27, 24, 28, 25, 21, 24, 20, 17, 21, 18, 14, 18, 15, 11, 14, 10, 7, 10, 6, 3, 0, 4, 8, 5, 1, -2.5, -5.8, -3, 1, 4, 7],
    [42, 42.5, 45.5, 46.5, 52, 56.5, 55, 54, 52, 50, 48, 45, 41, 37, 33, 30, 27, 24, 27, 23, 26, 22, 25, 21, 24, 20, 23, 19, 16, 19, 15, 12, 15, 11, 8, 4, 7, 3, 0, 4, 8, 5, 2, -2, 1, -3],
]

font = "Liberation Sans, Arial, sans-serif"
fig = go.Figure()

for group in (members_upper, members_upper_mid, members_middle, members_low, members_divers):
    for m in group:
        fig.add_trace(go.Scatter(x=days, y=m, mode="lines",
                                 line=dict(color="rgba(0,0,255,0.9)", width=1)))

fig.add_hline(y=0, line=dict(color="black", width=1, dash="dot"))

for ctrl in (ctrl_high, ctrl_low):
    fig.add_trace(go.Scatter(x=days, y=ctrl, mode="lines",
                             line=dict(color="rgb(20,20,110)", width=1.6)))

# thick lines with black outline
fig.add_trace(go.Scatter(x=days, y=ens_mean, mode="lines", line=dict(color="black", width=4.5)))
fig.add_trace(go.Scatter(x=days, y=ens_mean, mode="lines", line=dict(color="rgb(20,20,150)", width=2.5)))

for c in (clim_max, clim_min):
    fig.add_trace(go.Scatter(x=days, y=c, mode="lines", line=dict(color="red", width=1.6)))

fig.add_trace(go.Scatter(x=days, y=clim_mean, mode="lines", line=dict(color="black", width=4.5)))
fig.add_trace(go.Scatter(x=days, y=clim_mean, mode="lines", line=dict(color="red", width=3)))

tick_dates = ["2025-01-01", "2025-01-08", "2025-01-15", "2025-01-22", "2025-01-29",
              "2025-02-05", "2025-02-12", "2025-02-19"]
tick_text = ["Wed 1", "Wed 8", "Wed15", "Wed22", "Wed29", "Wed 5", "Wed12", "Wed19"]
# second / third label rows under the first tick of each month
month_labels = [("2025-01-01", "Jan", -0.0547), ("2025-01-01", "2025", -0.0789), ("2025-02-05", "Feb", -0.0547)]

annotations = [dict(text="[m/s]", xref="paper", yref="paper", x=-0.05, y=0.497,
                    textangle=-90, showarrow=False, font=dict(family=font, size=12))]
for d, txt, yy in month_labels:
    annotations.append(dict(text=txt, x=d, xref="x", y=yy, yref="paper", yanchor="middle",
                            showarrow=False, font=dict(family=font, size=11)))

fig.update_layout(
    width=773, height=548,
    margin=dict(l=48, r=9, t=29, b=44),
    paper_bgcolor="white", plot_bgcolor="white",
    showlegend=False,
    font=dict(family=font, size=12, color="black"),
    title=dict(text="Zonal mean zonal wind at 10 hPa 20250101", x=0.530, xanchor="center",
               y=0.973, yanchor="middle", yref="container",
               font=dict(family=font, size=23, color="black")),
    xaxis=dict(range=["2025-01-01", "2025-02-20"], tickvals=tick_dates, ticktext=tick_text,
               showgrid=False, zeroline=False, showline=True, linecolor="black", linewidth=1,
               mirror=True, ticks="outside", ticklen=5, tickcolor="black", automargin=False,
               ticklabeloverflow="allow", ticklabelstandoff=-3, tickfont=dict(family=font, size=11)),
    yaxis=dict(range=[-23.5, 72.5], tickvals=list(range(-20, 75, 5)),
               showgrid=False, zeroline=False, showline=True, linecolor="black", linewidth=1,
               mirror=True, ticks="outside", ticklen=5, tickcolor="black", automargin=False,
               tickfont=dict(family=font, size=12)),
    annotations=annotations,
)

# the page body has a default 8px margin; remove it so the figure fills the window
fig.write_html("out.html", config={"displayModeBar": False},
               post_script="document.body.style.margin='0';")
